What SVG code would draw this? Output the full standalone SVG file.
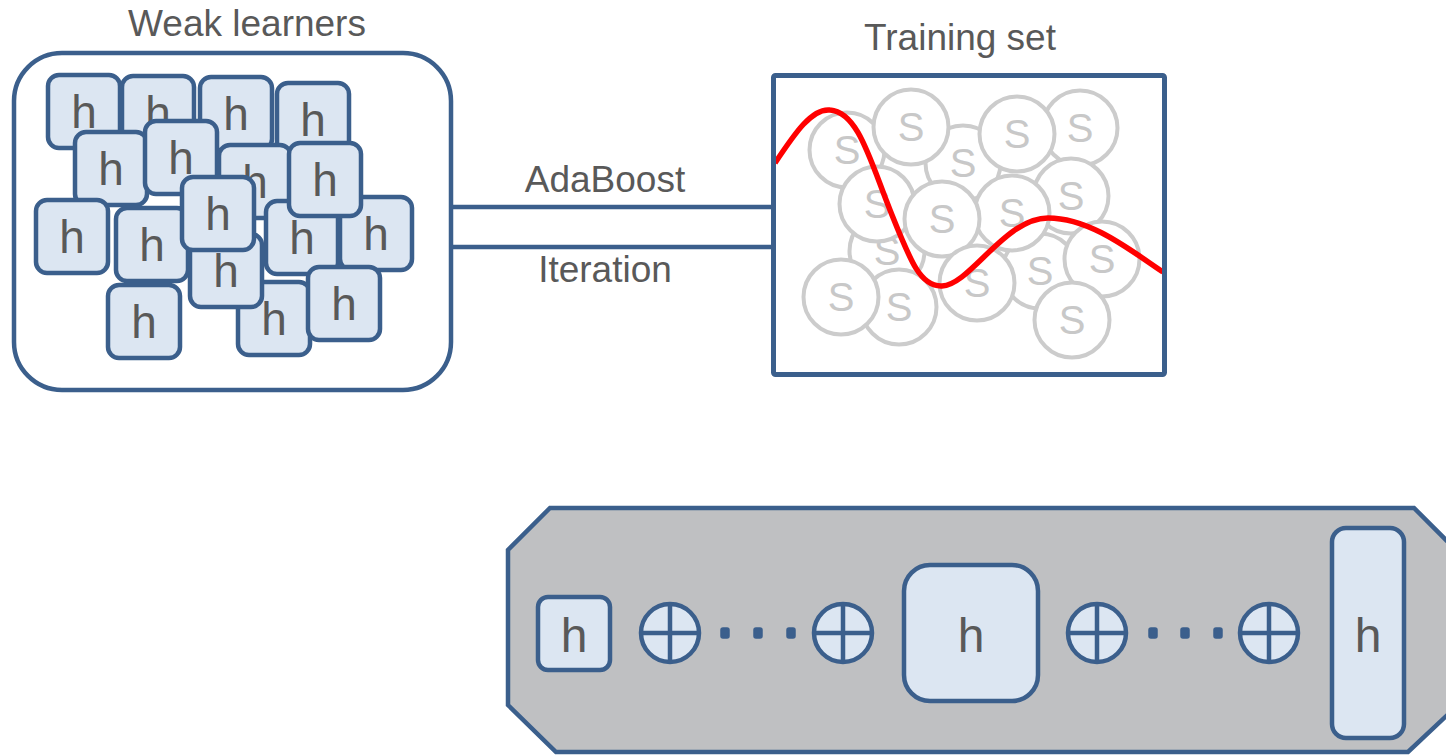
<svg xmlns="http://www.w3.org/2000/svg" width="1446" height="755" viewBox="0 0 1446 755">
  <style>
    .lbl { font-family: "Liberation Sans", Arial, sans-serif; font-size: 37px; fill: #595959; text-anchor: middle; }
    .frame { fill: #ffffff; stroke: #3B5F8C; stroke-width: 4.5; }
    .hb { fill: #DCE6F2; stroke: #3B5F8C; stroke-width: 4.5; }
    .ht { font-family: "Liberation Sans", Arial, sans-serif; font-size: 46px; fill: #595959; text-anchor: middle; }
    .hbig { font-family: "Liberation Sans", Arial, sans-serif; font-size: 48px; fill: #595959; text-anchor: middle; }
    .sc { fill: #ffffff; stroke: #CCCCCC; stroke-width: 4; }
    .st { font-family: "Liberation Sans", Arial, sans-serif; font-size: 40px; fill: #C8C8C8; text-anchor: middle; }
    .conn { stroke: #3B5F8C; stroke-width: 4.5; fill: none; }
    .op { fill: #DCE6F2; stroke: #3B5F8C; stroke-width: 4.5; }
    .opl { stroke: #3B5F8C; stroke-width: 4.5; }
    .dot { fill: #3B5F8C; stroke: #3B5F8C; stroke-width: 1.5; }
  </style>
  <defs>
    <g id="hcard">
      <rect class="hb" x="0" y="0" width="72" height="73" rx="11"/>
      <text class="ht" x="36" y="53">h</text>
    </g>
    <g id="sample">
      <circle class="sc" cx="0" cy="0" r="37.5"/>
      <text class="st" x="0" y="14">S</text>
    </g>
    <g id="plus">
      <circle class="op" cx="0" cy="0" r="29"/>
      <line class="opl" x1="-29" y1="0" x2="29" y2="0"/>
      <line class="opl" x1="0" y1="-29" x2="0" y2="29"/>
    </g>
  </defs>

  <!-- connectors between the two upper nodes -->
  <g id="connectors">
    <line class="conn" x1="451" y1="207" x2="773" y2="207"/>
    <line class="conn" x1="451" y1="247" x2="773" y2="247"/>
    <text class="lbl" x="605" y="192">AdaBoost</text>
    <text class="lbl" x="605" y="282">Iteration</text>
  </g>

  <!-- pool of weak learners -->
  <g id="weak-learners">
    <text class="lbl" x="247" y="36">Weak learners</text>
    <rect class="frame" x="14" y="53" width="437" height="337" rx="48"/>
    <use id="h01" href="#hcard" x="48" y="75"/>
    <use id="h02" href="#hcard" x="122" y="76"/>
    <use id="h03" href="#hcard" x="200" y="77"/>
    <use id="h04" href="#hcard" x="277" y="83"/>
    <use id="h05" href="#hcard" x="75" y="132"/>
    <use id="h09" href="#hcard" x="36" y="200"/>
    <use id="h06" href="#hcard" x="145" y="121"/>
    <use id="h07" href="#hcard" x="219" y="145"/>
    <use id="h14" href="#hcard" x="340" y="197"/>
    <use id="h13" href="#hcard" x="266" y="201"/>
    <use id="h08" href="#hcard" x="289" y="143"/>
    <use id="h10" href="#hcard" x="116" y="208"/>
    <use id="h16" href="#hcard" x="238" y="282"/>
    <use id="h12" href="#hcard" x="190" y="234"/>
    <use id="h11" href="#hcard" x="182" y="177"/>
    <use id="h17" href="#hcard" x="308" y="267"/>
    <use id="h15" href="#hcard" x="108" y="285"/>
  </g>

  <!-- training samples with decision curve -->
  <g id="training-set">
    <text class="lbl" x="960" y="50">Training set</text>
    <rect x="773.5" y="75.5" width="391" height="299" fill="#ffffff"/>
    <use href="#sample" x="963" y="163"/>
    <use href="#sample" x="1080" y="128"/>
    <use href="#sample" x="847" y="150"/>
    <use href="#sample" x="911" y="127"/>
    <use href="#sample" x="1017" y="134"/>
    <use href="#sample" x="887" y="251"/>
    <use href="#sample" x="1040" y="271"/>
    <use href="#sample" x="1071" y="196"/>
    <use href="#sample" x="1012" y="213"/>
    <use href="#sample" x="877" y="204"/>
    <use href="#sample" x="942" y="219"/>
    <use href="#sample" x="977" y="283"/>
    <use href="#sample" x="1102" y="259"/>
    <use href="#sample" x="899" y="307"/>
    <use href="#sample" x="841" y="297"/>
    <use href="#sample" x="1072" y="320"/>
    <path d="M775,163 C795,133 812,108 830,110 C858,112 870,160 890,210 C910,260 920,287 942,286 C970,285 1005,218 1048,218 C1090,218 1130,250 1163,272" fill="none" stroke="#FF0000" stroke-width="5.5"/>
    <rect x="773.5" y="75.5" width="391" height="299" rx="2" fill="none" stroke="#3B5F8C" stroke-width="5"/>
  </g>

  <!-- combined strong classifier -->
  <g id="ensemble">
    <polygon points="550,508 1414,508 1458,552 1458,705 1408,752 556,752 508,705 508,550" fill="#BFC0C2" stroke="#3B5F8C" stroke-width="4.5"/>
    <g id="h-first">
      <rect class="hb" x="538" y="597" width="72" height="73" rx="10"/>
      <text class="hbig" x="574" y="652">h</text>
    </g>
    <use href="#plus" x="670" y="633"/>
    <rect class="dot" x="721" y="628" width="8" height="10" rx="2"/>
    <rect class="dot" x="754" y="628" width="8" height="10" rx="2"/>
    <rect class="dot" x="787" y="628" width="8" height="10" rx="2"/>
    <use href="#plus" x="843" y="633"/>
    <g id="h-mid">
      <rect class="hb" x="904" y="565" width="134" height="136" rx="26"/>
      <text class="hbig" x="971" y="652">h</text>
    </g>
    <use href="#plus" x="1097" y="633"/>
    <rect class="dot" x="1149" y="628" width="8" height="10" rx="2"/>
    <rect class="dot" x="1181" y="628" width="8" height="10" rx="2"/>
    <rect class="dot" x="1214" y="628" width="8" height="10" rx="2"/>
    <use href="#plus" x="1269" y="633"/>
    <g id="h-last">
      <rect class="hb" x="1332" y="528" width="72" height="210" rx="14"/>
      <text class="hbig" x="1368" y="652">h</text>
    </g>
  </g>
</svg>
